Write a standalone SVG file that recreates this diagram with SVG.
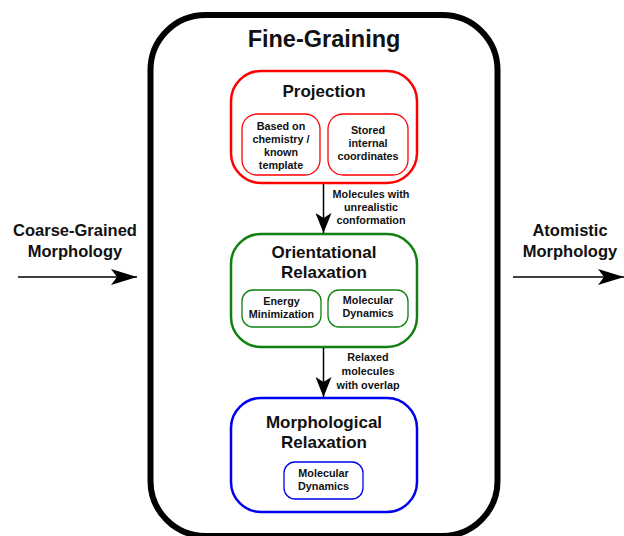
<svg xmlns="http://www.w3.org/2000/svg" width="624" height="536" viewBox="0 0 624 536">
<style>
text{font-family:"Liberation Sans",Arial,sans-serif;font-weight:bold;fill:#111;text-anchor:middle}
.t1{font-size:23.5px}
.t2{font-size:17px}
.t3{font-size:16.5px}
.t4{font-size:10.8px}
.sub{fill:#fff;stroke-width:1.3}
.line{stroke:#000;stroke-width:1.5;fill:none}
</style>
<defs>
<marker id="ah" viewBox="0 0 20 16" refX="20" refY="8" markerWidth="20" markerHeight="16" markerUnits="userSpaceOnUse" orient="auto">
<path d="M0,0 L20,8 L0,16 L5,8 Z" fill="#000"/>
</marker>
<marker id="ah2" viewBox="0 0 26 16" refX="26" refY="8" markerWidth="26" markerHeight="16" markerUnits="userSpaceOnUse" orient="auto">
<path d="M0,0 L26,8 L0,16 L6,8 Z" fill="#000"/>
</marker>
</defs>
<rect width="624" height="536" fill="#fff"/>
<g id="fine-graining">
<rect x="150.5" y="15" width="347" height="521" rx="55" fill="none" stroke="#000" stroke-width="6"/>
<text class="t1" x="324" y="47">Fine-Graining</text>
</g>
<g id="coarse">
<text class="t3" x="75" y="236">Coarse-Grained</text>
<text class="t3" x="75" y="257">Morphology</text>
</g>
<g id="atomistic">
<text class="t3" x="570" y="236">Atomistic</text>
<text class="t3" x="570" y="257">Morphology</text>
</g>
<g id="projection">
<rect x="231" y="71" width="186" height="112" rx="30" fill="#fff" stroke="#ff0000" stroke-width="2.5"/>
<text class="t2" x="324" y="97">Projection</text>
<rect class="sub" x="242" y="114" width="78" height="61" rx="15" stroke="#ff0000"/>
<text class="t4" x="281" y="130">Based on</text>
<text class="t4" x="281" y="143">chemistry /</text>
<text class="t4" x="281" y="156">known</text>
<text class="t4" x="281" y="169">template</text>
<rect class="sub" x="328" y="114" width="80" height="61" rx="15" stroke="#ff0000"/>
<text class="t4" x="368" y="134">Stored</text>
<text class="t4" x="368" y="147">internal</text>
<text class="t4" x="368" y="160">coordinates</text>
</g>
<g id="orientational">
<rect x="231" y="234" width="186" height="113" rx="30" fill="#fff" stroke="#108010" stroke-width="2.5"/>
<text class="t2" x="324" y="258">Orientational</text>
<text class="t2" x="324" y="278">Relaxation</text>
<rect class="sub" x="242" y="290" width="79" height="37" rx="11" stroke="#108010"/>
<text class="t4" x="281.5" y="305">Energy</text>
<text class="t4" x="281.5" y="318">Minimization</text>
<rect class="sub" x="328" y="290" width="80" height="37" rx="11" stroke="#108010"/>
<text class="t4" x="368" y="304">Molecular</text>
<text class="t4" x="368" y="317">Dynamics</text>
</g>
<g id="morphological">
<rect x="231" y="398" width="186" height="114" rx="30" fill="#fff" stroke="#0000ee" stroke-width="2.5"/>
<text class="t2" x="324" y="428">Morphological</text>
<text class="t2" x="324" y="448">Relaxation</text>
<rect class="sub" x="284" y="462" width="79" height="37" rx="11" stroke="#0000ee"/>
<text class="t4" x="323.5" y="477">Molecular</text>
<text class="t4" x="323.5" y="490">Dynamics</text>
</g>
<g id="connectors">
<line class="line" x1="18" y1="277" x2="137" y2="277" marker-end="url(#ah2)"/>
<line class="line" x1="513" y1="277" x2="624" y2="277" marker-end="url(#ah2)"/>
<line class="line" x1="323.5" y1="184" x2="323.5" y2="233" marker-end="url(#ah)"/>
<line class="line" x1="323.5" y1="348" x2="323.5" y2="397" marker-end="url(#ah)"/>
<text class="t4" x="371" y="198">Molecules with</text>
<text class="t4" x="371" y="211">unrealistic</text>
<text class="t4" x="371" y="224">conformation</text>
<text class="t4" x="368" y="361">Relaxed</text>
<text class="t4" x="368" y="375">molecules</text>
<text class="t4" x="368" y="389">with overlap</text>
</g>
</svg>
